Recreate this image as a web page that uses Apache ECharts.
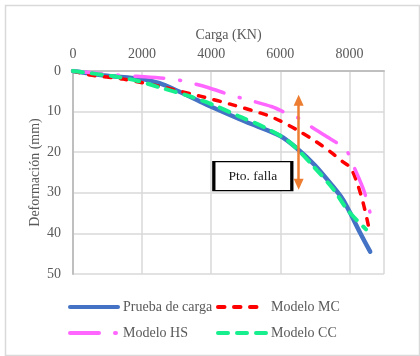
<!DOCTYPE html>
<html>
<head>
<meta charset="utf-8">
<script src="https://cdn.jsdelivr.net/npm/echarts@6/dist/echarts.min.js"></script>
<style>
html,body{margin:0;padding:0;background:#fff;}
#chart{width:420px;height:356px;}
</style>
</head>
<body>
<div id="chart"></div>
<script>
// ---- Data (Carga kN, Deformación mm) ----
const seriesNames = ['Prueba de carga', 'Modelo MC', 'Modelo HS', 'Modelo CC'];

const pruebaCarga = [0, 900, 2000, 2500, 3000, 3700, 4000, 5000, 6000, 6500, 7000, 7500, 7800, 8000, 8300, 8600];
const pruebaDef   = [0, 1.1, 2.0, 3.0, 4.8, 7.6, 8.8, 12.5, 16.0, 19.2, 23.2, 28.2, 31.5, 34.6, 39.7, 44.5];

const mcCarga = [0, 490, 1460, 2620, 3680, 4650, 5620, 6000, 6500, 7000, 7450, 7800, 8030, 8220, 8400, 8560];
const mcDef   = [0, 1.0, 2.0, 4.0, 6.2, 8.4, 10.9, 12.3, 14.6, 17.2, 19.9, 22.3, 23.8, 27.5, 32.6, 38.5];

const hsCarga = [0, 400, 1270, 1850, 2910, 3200, 3880, 4550, 4930, 5760, 6200, 6580, 6870, 7350, 7740, 7940, 8130, 8420, 8600];
const hsDef   = [0, 0.3, 1.0, 1.3, 2.0, 2.5, 4.0, 5.9, 6.8, 8.8, 10.5, 11.8, 13.6, 16.2, 18.3, 19.9, 23.6, 29.5, 35.0];

const ccCarga = [0, 1170, 1850, 2570, 3300, 4070, 4790, 5520, 6250, 6970, 7550, 7940, 8480];
const ccDef   = [0, 1.3, 2.4, 4.2, 6.0, 8.4, 11.1, 13.8, 17.4, 23.6, 29.3, 34.2, 39.0];

const xTicks = [0, 2000, 4000, 6000, 8000];
const yTicks = [0, 10, 20, 30, 40, 50];

// annotation values
const fallaCarga = 6530;
const fallaDefRange = [7.2, 27.9];
const fallaLabel = 'Pto. falla';
const fallaBox = [5204, 25.9];

const zip = (a, b) => a.map((v, i) => [v, b[i]]);

const serif = '"Liberation Serif", "Times New Roman", serif';
const grey = '#595959';

const chart = echarts.init(document.getElementById('chart'), null, {renderer: 'canvas'});

const legendBase = {
  orient: 'vertical', top: 300, itemWidth: 48, itemHeight: 14, itemGap: 12, padding: 0,
  textStyle: {fontFamily: serif, fontSize: 14, color: grey},
  itemStyle: {opacity: 0},
  lineStyle: {width: 4},
  selectedMode: false
};

const option = {
  animation: false,
  backgroundColor: '#fff',
  textStyle: {fontFamily: serif},
  graphic: [{
    type: 'rect', left: 3, top: 3, silent: true, z: -10,
    shape: {width: 414, height: 350},
    style: {fill: 'none', stroke: '#d9d9d9', lineWidth: 1.5}
  }],
  grid: {left: 73, top: 71, width: 311, height: 203, containLabel: false},
  legend: [
    Object.assign({}, legendBase, {data: [seriesNames[0], seriesNames[2]], left: 68}),
    Object.assign({}, legendBase, {data: [seriesNames[1], seriesNames[3]], left: 216})
  ],
  xAxis: {
    type: 'value', position: 'top', min: 0, max: 9000, interval: 2000,
    name: 'Carga (KN)', nameLocation: 'middle', nameGap: 29, nameMoveOverlap: false,
    nameTextStyle: {fontFamily: serif, fontSize: 14, color: grey},
    axisLine: {show: true, lineStyle: {color: '#bfbfbf', width: 2}},
    axisTick: {show: false},
    axisLabel: {fontFamily: serif, fontSize: 14, color: grey, margin: 10, showMaxLabel: false,
      formatter: v => xTicks.includes(v) ? String(v) : ''},
    splitLine: {show: true, lineStyle: {color: '#d9d9d9', width: 1.5}}
  },
  yAxis: {
    type: 'value', inverse: true, min: 0, max: 50, interval: 10,
    name: 'Deformación (mm)', nameLocation: 'middle', nameGap: 31, nameMoveOverlap: false,
    nameTextStyle: {fontFamily: serif, fontSize: 14, color: grey},
    axisLine: {show: true, lineStyle: {color: '#bfbfbf', width: 2}},
    axisTick: {show: false},
    axisLabel: {fontFamily: serif, fontSize: 14, color: grey, margin: 12,
      formatter: v => yTicks.includes(v) ? String(v) : ''},
    splitLine: {show: true, lineStyle: {color: '#d9d9d9', width: 1.5}}
  },
  series: [{
    name: seriesNames[0], type: 'line', data: zip(pruebaCarga, pruebaDef),
    showSymbol: false, symbol: 'none', smooth: 0.3,
    lineStyle: {color: '#4472C4', width: 4.5, cap: 'round'},
    itemStyle: {color: '#4472C4'}
  }, {
    name: seriesNames[1], type: 'line', data: zip(mcCarga, mcDef),
    showSymbol: false, symbol: 'none', smooth: 0.3,
    lineStyle: {color: '#FF0000', width: 3.5, type: [6.5, 9.5], cap: 'round'},
    itemStyle: {color: '#FF0000'}
  }, {
    name: seriesNames[2], type: 'line', data: zip(hsCarga, hsDef),
    showSymbol: false, symbol: 'none', smooth: 0.3,
    lineStyle: {color: '#FF66FF', width: 3.5, type: [29, 16, 1, 16], cap: 'round'},
    itemStyle: {color: '#FF66FF'},
    markLine: {
      silent: true, symbol: ['triangle', 'triangle'], symbolSize: [10, 11],
      label: {show: false},
      lineStyle: {color: '#ED7D31', width: 2.5, type: 'solid'},
      data: [[{coord: [fallaCarga, fallaDefRange[0]]}, {coord: [fallaCarga, fallaDefRange[1]]}]]
    },
    markPoint: {
      silent: true, symbol: 'rect', symbolSize: [78, 29],
      itemStyle: {color: '#ffffff', borderColor: '#000000', borderWidth: 2},
      label: {show: true, position: 'inside', formatter: fallaLabel, color: '#1a1a1a', fontFamily: serif, fontSize: 13.5},
      data: [{coord: fallaBox}]
    }
  }, {
    name: seriesNames[3], type: 'line', data: zip(ccCarga, ccDef),
    showSymbol: false, symbol: 'none', smooth: 0.3,
    lineStyle: {color: '#17EE8E', width: 4, type: [10, 9], cap: 'round'},
    itemStyle: {color: '#17EE8E'}
  }]
};
chart.setOption(option);
</script>
</body>
</html>
